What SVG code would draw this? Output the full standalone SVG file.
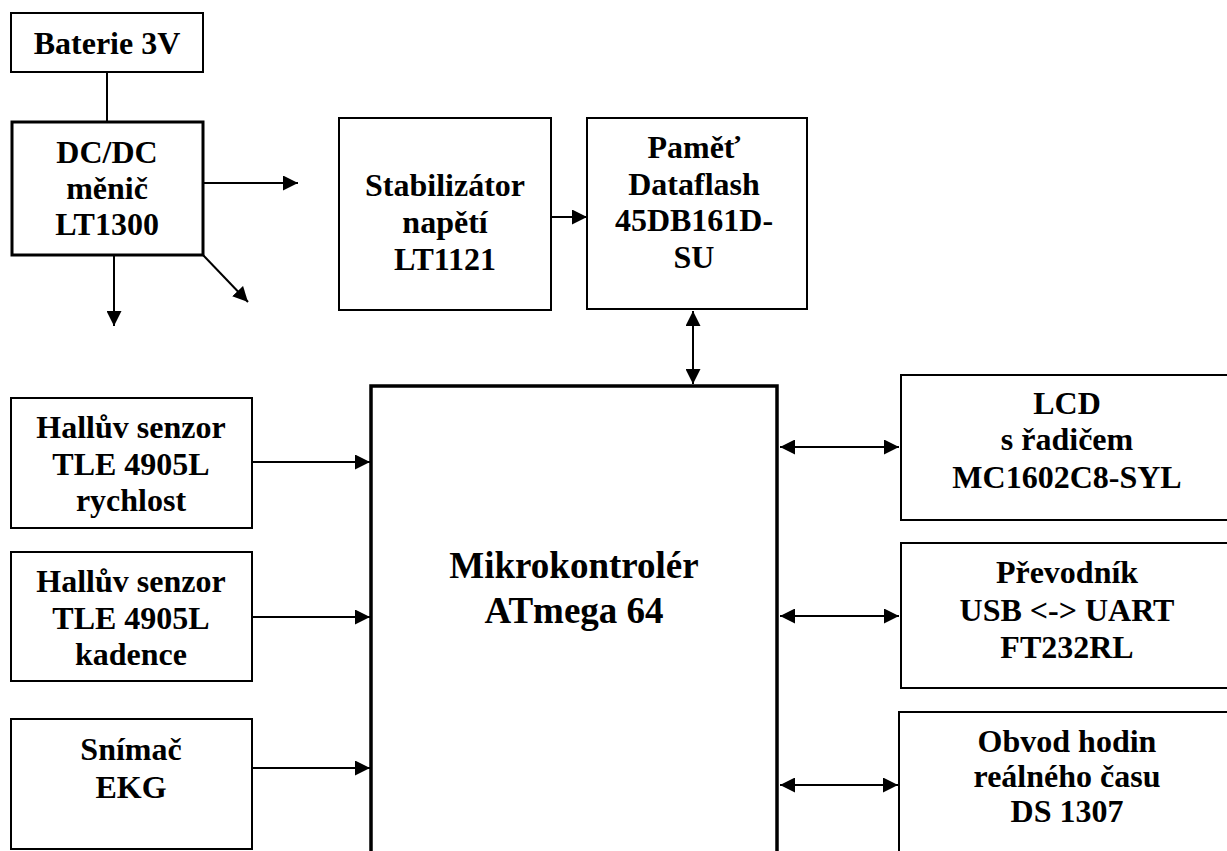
<svg xmlns="http://www.w3.org/2000/svg" width="1227" height="851" viewBox="0 0 1227 851">
<style>
.box{fill:#fff;stroke:#000;stroke-width:2}
.thick{stroke-width:3}
.main{stroke-width:3.5}
.t{font-family:"Liberation Serif","Times New Roman",serif;font-weight:bold;font-size:32px;text-anchor:middle;fill:#000}
.big{font-size:37px}
.c line{stroke:#000;stroke-width:2}
</style>
<defs>
<marker id="ah" viewBox="0 0 15 15" refX="15" refY="7.5" markerWidth="15" markerHeight="15" markerUnits="userSpaceOnUse" orient="auto-start-reverse">
<path d="M0,0 L15,7.5 L0,15 z" fill="#000"/>
</marker>
</defs>
<rect width="1227" height="851" fill="#fff"/>
<g id="connectors" class="c">
<line x1="107" y1="72" x2="107" y2="122"/>
<line x1="203" y1="183" x2="298" y2="183" marker-end="url(#ah)"/>
<line x1="114" y1="255" x2="114" y2="326" marker-end="url(#ah)"/>
<line x1="203" y1="255" x2="248" y2="302" marker-end="url(#ah)"/>
<line x1="551" y1="217" x2="587" y2="217" marker-end="url(#ah)"/>
<line x1="693" y1="311" x2="693" y2="384" marker-start="url(#ah)" marker-end="url(#ah)"/>
<line x1="252" y1="462" x2="370" y2="462" marker-end="url(#ah)"/>
<line x1="252" y1="617" x2="370" y2="617" marker-end="url(#ah)"/>
<line x1="252" y1="768" x2="370" y2="768" marker-end="url(#ah)"/>
<line x1="780" y1="447" x2="899" y2="447" marker-start="url(#ah)" marker-end="url(#ah)"/>
<line x1="780" y1="616" x2="899" y2="616" marker-start="url(#ah)" marker-end="url(#ah)"/>
<line x1="780" y1="785" x2="898" y2="785" marker-start="url(#ah)" marker-end="url(#ah)"/>
</g>
<g id="baterie">
<rect class="box" x="11" y="13" width="192" height="59"/>
<text class="t" x="107" y="54">Baterie 3V</text>
</g>
<g id="dcdc">
<rect class="box thick" x="12" y="122" width="191" height="133"/>
<text class="t" x="107" y="163">DC/DC</text>
<text class="t" x="107" y="199">měnič</text>
<text class="t" x="107" y="235">LT1300</text>
</g>
<g id="stabilizator">
<rect class="box" x="339" y="118" width="212" height="192"/>
<text class="t" x="445" y="196">Stabilizátor</text>
<text class="t" x="445" y="233">napětí</text>
<text class="t" x="445" y="270">LT1121</text>
</g>
<g id="pamet">
<rect class="box" x="587" y="118" width="220" height="191"/>
<text class="t" x="694" y="158">Paměť</text>
<text class="t" x="694" y="195">Dataflash</text>
<text class="t" x="694" y="231">45DB161D-</text>
<text class="t" x="694" y="268">SU</text>
</g>
<g id="mikrokontroler">
<rect class="box main" x="371" y="386" width="406" height="480"/>
<text class="t big" x="574" y="578">Mikrokontrolér</text>
<text class="t big" x="574" y="623">ATmega 64</text>
</g>
<g id="hall1">
<rect class="box" x="11" y="398" width="241" height="130"/>
<text class="t" x="131" y="438">Hallův senzor</text>
<text class="t" x="131" y="475">TLE 4905L</text>
<text class="t" x="131" y="511">rychlost</text>
</g>
<g id="hall2">
<rect class="box" x="11" y="552" width="241" height="129"/>
<text class="t" x="131" y="592">Hallův senzor</text>
<text class="t" x="131" y="629">TLE 4905L</text>
<text class="t" x="131" y="665">kadence</text>
</g>
<g id="snimac">
<rect class="box" x="11" y="719" width="241" height="130"/>
<text class="t" x="131" y="760">Snímač</text>
<text class="t" x="131" y="798">EKG</text>
</g>
<g id="lcd">
<rect class="box" x="901" y="375" width="340" height="145"/>
<text class="t" x="1067" y="414">LCD</text>
<text class="t" x="1067" y="450">s řadičem</text>
<text class="t" x="1067" y="488">MC1602C8-SYL</text>
</g>
<g id="prevodnik">
<rect class="box" x="901" y="543" width="340" height="145"/>
<text class="t" x="1067" y="583">Převodník</text>
<text class="t" x="1067" y="621">USB &lt;-&gt; UART</text>
<text class="t" x="1067" y="658">FT232RL</text>
</g>
<g id="obvod">
<rect class="box" x="899" y="712" width="342" height="160"/>
<text class="t" x="1067" y="752">Obvod hodin</text>
<text class="t" x="1067" y="787">reálného času</text>
<text class="t" x="1067" y="822">DS 1307</text>
</g>
</svg>
